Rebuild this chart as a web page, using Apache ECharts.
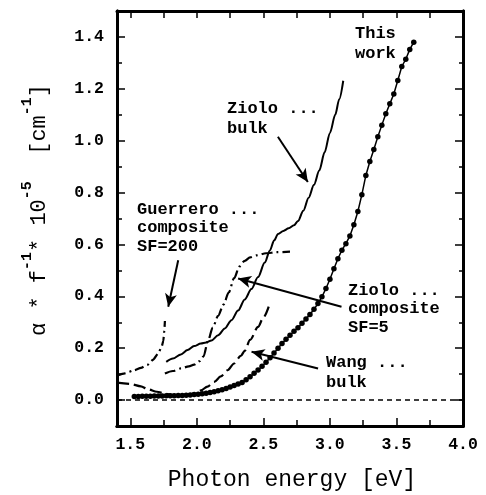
<!DOCTYPE html>
<html>
<head>
<meta charset="utf-8">
<script src="https://cdn.jsdelivr.net/npm/echarts@6/dist/echarts.min.js"></script>
<style>
  html, body { margin: 0; padding: 0; background: #fff; }
  #chart { width: 486px; height: 495px; }
</style>
</head>
<body>
<div id="chart"></div>
<script>
// Absorption curves: alpha * f^-1 * 1e-5 [cm^-1] versus photon energy [eV]

// "This work" (measured points)
const thisWorkX = [1.53, 1.56, 1.59, 1.62, 1.65, 1.68, 1.71, 1.74, 1.77, 1.80,
  1.83, 1.86, 1.89, 1.92, 1.95, 1.98, 2.01, 2.04, 2.07, 2.10,
  2.13, 2.16, 2.19, 2.22, 2.25, 2.28, 2.31, 2.34, 2.37, 2.40,
  2.43, 2.46, 2.49, 2.52, 2.55, 2.58, 2.61, 2.64, 2.67, 2.70,
  2.73, 2.76, 2.79, 2.82, 2.85, 2.88, 2.91, 2.94, 2.97, 3.00,
  3.03, 3.06, 3.09, 3.12, 3.15, 3.18, 3.21, 3.24, 3.27, 3.30,
  3.33, 3.36, 3.39, 3.42, 3.45, 3.48, 3.51, 3.54, 3.57, 3.60, 3.63];
const thisWorkY = [0.014, 0.014, 0.015, 0.015, 0.015, 0.016, 0.016, 0.016, 0.017, 0.017,
  0.017, 0.018, 0.018, 0.019, 0.020, 0.021, 0.022, 0.024, 0.026, 0.029,
  0.032, 0.036, 0.040, 0.045, 0.050, 0.056, 0.062, 0.068, 0.078, 0.090,
  0.103, 0.116, 0.130, 0.146, 0.163, 0.181, 0.200, 0.218, 0.234, 0.250,
  0.265, 0.279, 0.296, 0.313, 0.330, 0.350, 0.372, 0.398, 0.430, 0.466,
  0.506, 0.545, 0.578, 0.603, 0.633, 0.676, 0.727, 0.792, 0.866, 0.920,
  0.966, 1.015, 1.060, 1.104, 1.142, 1.180, 1.232, 1.286, 1.314, 1.352, 1.380];

// Ziolo ... bulk (solid)
const zioloBulkX = [1.77, 1.82, 1.88, 1.93, 1.98, 2.03, 2.07, 2.11, 2.16, 2.21,
  2.26, 2.31, 2.36, 2.41, 2.46, 2.51, 2.55, 2.58, 2.61, 2.65,
  2.69, 2.73, 2.76, 2.80, 2.84, 2.88, 2.92, 2.96, 3.00, 3.04, 3.07, 3.10];
const zioloBulkY = [0.147, 0.160, 0.176, 0.193, 0.208, 0.218, 0.222, 0.230, 0.250, 0.276,
  0.308, 0.345, 0.388, 0.428, 0.474, 0.530, 0.578, 0.615, 0.640, 0.652,
  0.662, 0.674, 0.690, 0.730, 0.780, 0.830, 0.885, 0.955, 1.030, 1.100, 1.160, 1.231];

// Ziolo ... composite SF=5 (dash-dot)
const zioloCompX = [1.76, 1.82, 1.88, 1.94, 1.98, 2.02, 2.05, 2.085, 2.12, 2.16,
  2.20, 2.24, 2.28, 2.32, 2.36, 2.40, 2.45, 2.52, 2.60, 2.70];
const zioloCompY = [0.102, 0.112, 0.122, 0.130, 0.137, 0.150, 0.168, 0.231, 0.280, 0.325,
  0.368, 0.415, 0.470, 0.515, 0.537, 0.550, 0.558, 0.566, 0.570, 0.572];

// Guerrero ... composite SF=200 (dash-dot)
const guerreroX = [1.40, 1.46, 1.53, 1.58, 1.63, 1.67, 1.71, 1.735, 1.748, 1.755, 1.76];
const guerreroY = [0.095, 0.103, 0.115, 0.124, 0.136, 0.155, 0.180, 0.205, 0.228, 0.265, 0.305];

// Wang ... bulk (long dashes)
const wangX = [1.40, 1.50, 1.58, 1.63, 1.70, 1.76, 1.82, 1.88, 1.94, 1.98,
  2.03, 2.08, 2.13, 2.18, 2.23, 2.28, 2.33, 2.36, 2.40, 2.46, 2.50, 2.54];
const wangY = [0.067, 0.062, 0.053, 0.042, 0.032, 0.025, 0.020, 0.019, 0.021, 0.026,
  0.037, 0.052, 0.070, 0.091, 0.115, 0.141, 0.170, 0.190, 0.232, 0.282, 0.318, 0.360];

// zero reference line
const zeroX = [1.4, 4.0];
const zeroY = [0, 0];

// ticks and tick labels
const xLabelValues = [1.5, 2.0, 2.5, 3.0, 3.5, 4.0];
const xMajorTicks = [1.5, 2.0, 2.5, 3.0, 3.5];
const xMinorTicks = [1.75, 2.25, 2.75, 3.25, 3.75];
const yLabelValues = [0.0, 0.2, 0.4, 0.6, 0.8, 1.0, 1.2, 1.4];
const yMinorTicks = [-0.1, 0.1, 0.3, 0.5, 0.7, 0.9, 1.1, 1.3];

// annotation arrows: [fromX, fromY, toX, toY] in data units
const arrowZioloBulk = [2.609, 1.015, 2.834, 0.841];
const arrowGuerrero = [1.86, 0.539, 1.785, 0.36];
const arrowZioloComp = [3.087, 0.36, 2.31, 0.469];
const arrowWang = [2.911, 0.122, 2.411, 0.186];

function pairs(xs, ys) { return xs.map((x, i) => [x, ys[i]]); }

const tickFont = 'Liberation Mono';
const labelFont = 'bold 17px "Liberation Mono", monospace';

function xAxisDef(pos, ticks, len, withLabels) {
  return {
    type: 'value', position: pos, min: 1.4, max: 4.0,
    axisLine: { show: true, onZero: false, lineStyle: { color: '#000', width: 3 } },
    axisTick: { show: true, inside: true, length: len, customValues: ticks, lineStyle: { color: '#000', width: 1.5 } },
    axisLabel: withLabels ? {
      show: true, customValues: xLabelValues, margin: 10,
      color: '#000', fontFamily: tickFont, fontWeight: 'bold', fontSize: 16.5,
      formatter: v => v.toFixed(1)
    } : { show: false },
    splitLine: { show: false }
  };
}
function yAxisDef(pos, ticks, len, withLabels) {
  return {
    type: 'value', position: pos, min: -0.1, max: 1.5, interval: 0.1,
    axisLine: { show: true, onZero: false, lineStyle: { color: '#000', width: 3 } },
    axisTick: { show: true, inside: true, length: len, customValues: ticks, lineStyle: { color: '#000', width: 1.5 } },
    axisLabel: withLabels ? {
      show: true, customValues: yLabelValues, margin: 13,
      color: '#000', fontFamily: tickFont, fontWeight: 'bold', fontSize: 16.5,
      formatter: v => v.toFixed(1)
    } : { show: false },
    splitLine: { show: false }
  };
}

function arrowLine(a) {
  return [
    { coord: [a[0], a[1]], symbol: 'none' },
    { coord: [a[2], a[3]], symbol: 'arrow', symbolSize: [9, 13] }
  ];
}

const chart = echarts.init(document.getElementById('chart'), null, { renderer: 'canvas' });

chart.setOption({
  animation: false,
  backgroundColor: '#fff',
  grid: { left: 117, right: 23, top: 11, bottom: 69, containLabel: false },
  xAxis: [
    xAxisDef('bottom', xMajorTicks, 8, true),
    xAxisDef('bottom', xMinorTicks, 6, false),
    xAxisDef('top', xMajorTicks.concat(xMinorTicks), 7, false)
  ],
  yAxis: [
    yAxisDef('left', yLabelValues, 8, true),
    yAxisDef('left', yMinorTicks, 5, false),
    yAxisDef('right', yLabelValues, 8, false),
    yAxisDef('right', yMinorTicks, 4, false)
  ],
  series: [
    {
      name: 'zero', type: 'line', data: pairs(zeroX, zeroY), symbol: 'none',
      lineStyle: { color: '#000', width: 1.5, type: [5, 4] }
    },
    {
      name: 'Wang ... bulk', type: 'line', data: pairs(wangX, wangY), symbol: 'none',
      smooth: 0.3, smoothMonotone: 'x',
      lineStyle: { color: '#000', width: 2.2, type: [12, 5] }
    },
    {
      name: 'Guerrero ... composite SF=200', type: 'line', data: pairs(guerreroX, guerreroY), symbol: 'none',
      smooth: 0.2, smoothMonotone: 'x',
      lineStyle: { color: '#000', width: 2.2, type: [9, 4, 2, 4] }
    },
    {
      name: 'Ziolo ... composite SF=5', type: 'line', data: pairs(zioloCompX, zioloCompY), symbol: 'none',
      smooth: 0.3, smoothMonotone: 'x',
      lineStyle: { color: '#000', width: 2.2, type: [11, 4, 2, 4] }
    },
    {
      name: 'Ziolo ... bulk', type: 'line', data: pairs(zioloBulkX, zioloBulkY), symbol: 'none',
      smooth: 0.3, smoothMonotone: 'x',
      lineStyle: { color: '#000', width: 2 }
    },
    {
      name: 'This work', type: 'line', data: pairs(thisWorkX, thisWorkY),
      symbol: 'circle', symbolSize: 5.5, showAllSymbol: true,
      itemStyle: { color: '#000' },
      lineStyle: { color: '#000', width: 1.5 }
    },
    {
      name: 'arrows', type: 'line', data: [], symbol: 'none',
      markLine: {
        silent: true, animation: false,
        symbol: ['none', 'arrow'], symbolSize: 12,
        label: { show: false },
        itemStyle: { color: '#000' },
        lineStyle: { color: '#000', width: 2, type: 'solid' },
        emphasis: { disabled: true },
        data: [arrowLine(arrowZioloBulk), arrowLine(arrowGuerrero), arrowLine(arrowZioloComp), arrowLine(arrowWang)]
      }
    }
  ],
  graphic: [
    {
      type: 'text', x: 292, y: 480,
      style: {
        text: 'Photon energy [eV]', font: '23px "Liberation Mono", monospace',
        fill: '#000', align: 'center', verticalAlign: 'middle'
      }
    },
    {
      type: 'text', x: 35, y: 210, rotation: Math.PI / 2,
      style: {
        text: '{m|\u03b1 * f}{s|-1}{m|* 10}{s|-5}{m|  [cm}{s|-1}{m|]}',
        align: 'center', verticalAlign: 'middle', fill: '#000',
        rich: {
          m: { fontFamily: 'Liberation Mono', fontSize: 22, lineHeight: 30, verticalAlign: 'bottom', fill: '#000' },
          s: { fontFamily: 'Liberation Mono', fontSize: 15, fontWeight: 'bold', lineHeight: 16, verticalAlign: 'top', fill: '#000' }
        }
      }
    },
    { type: 'text', x: 355, y: 24, style: { text: 'This\nwork', font: labelFont, lineHeight: 19.5, fill: '#000', verticalAlign: 'top' } },
    { type: 'text', x: 227, y: 99, style: { text: 'Ziolo ...\nbulk', font: labelFont, lineHeight: 19.5, fill: '#000', verticalAlign: 'top' } },
    { type: 'text', x: 137, y: 200, style: { text: 'Guerrero ...\ncomposite\nSF=200', font: labelFont, lineHeight: 18.5, fill: '#000', verticalAlign: 'top' } },
    { type: 'text', x: 348, y: 281, style: { text: 'Ziolo ...\ncomposite\nSF=5', font: labelFont, lineHeight: 18.5, fill: '#000', verticalAlign: 'top' } },
    { type: 'text', x: 326, y: 353, style: { text: 'Wang ...\nbulk', font: labelFont, lineHeight: 19.5, fill: '#000', verticalAlign: 'top' } }
  ]
});
</script>
</body>
</html>
